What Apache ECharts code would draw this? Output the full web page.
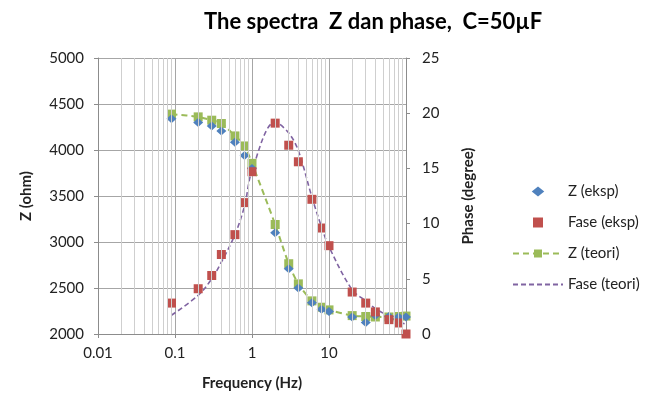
<!DOCTYPE html>
<html>
<head>
<meta charset="utf-8">
<script src="https://cdn.jsdelivr.net/npm/echarts@6/dist/echarts.min.js"></script>
<style>
  html, body { margin: 0; padding: 0; background: #fff; }
  #chart { width: 656px; height: 410px; }
</style>
</head>
<body>
<div id="chart"></div>
<script>
// frequency points (Hz)
var freq = [0.09, 0.2, 0.3, 0.4, 0.6, 0.8, 1, 2, 3, 4, 6, 8, 10, 20, 30, 40, 60, 80, 100];
// Z measured / theory (ohm)
var zEksp  = [4340, 4300, 4262, 4207, 4084, 3940, 3800, 3100, 2710, 2500, 2340, 2270, 2245, 2185, 2125, 2200, 2190, 2185, 2185];
var zTeori = [4390, 4360, 4324, 4288, 4153, 4044, 3855, 3190, 2764, 2545, 2360, 2291, 2262, 2200, 2190, 2185, 2185, 2190, 2195];
// phase measured / theory (degree)
var faseEksp  = [2.8, 4.1, 5.3, 7.2, 9.0, 11.9, 14.7, 19.1, 17.1, 15.6, 12.2, 9.6, 8.0, 3.8, 2.8, 2.0, 1.3, 1.0, 0];
var faseTeori = [1.7, 3.5, 5.0, 6.5, 9.0, 11.6, 14.8, 19.2, 18.2, 16.6, 12.4, 9.7, 7.9, 4.0, 3.0, 2.3, 1.6, 1.1, 0.9];

var names = ['Z (eksp)', 'Fase (eksp)', 'Z (teori)', 'Fase (teori)'];

function pairs(ys) {
  var res = [];
  for (var i = 0; i < freq.length; i++) {
    res.push([freq[i], ys[i]]);
  }
  return res;
}

// minor vertical grid lines at 2..9 of each decade
var minorLines = [];
for (var d = -2; d < 2; d++) {
  for (var k = 2; k <= 9; k++) {
    minorLines.push({ xAxis: k * Math.pow(10, d) });
  }
}

var chart = echarts.init(document.getElementById('chart'));
var fontFam = 'Lato, "Open Sans", sans-serif';
var axisGray = '#8c8c8c';

var option = {
  animation: false,
  textStyle: { fontFamily: fontFam },
  title: {
    text: 'The spectra  Z dan phase,  C=50\u00b5F',
    left: 199,
    top: 6,
    textStyle: { fontSize: 22, fontWeight: 'bold', color: '#000', fontFamily: fontFam }
  },
  legend: {
    orient: 'vertical',
    left: 507,
    top: 179,
    itemWidth: 50,
    itemHeight: 10,
    itemGap: 16,
    textStyle: { fontSize: 15, color: '#222' },
    data: [
      { name: names[0], icon: 'path://M5,1L10,5L5,9L0,5Z', itemStyle: { opacity: 1 } },
      { name: names[1], icon: 'path://M0,0L10,0L10,10L0,10Z', itemStyle: { opacity: 1 } },
      { name: names[2] },
      { name: names[3], itemStyle: { opacity: 0 } }
    ]
  },
  grid: { left: 98, right: 250, top: 58, bottom: 76 },
  xAxis: {
    type: 'log',
    logBase: 10,
    min: 0.01,
    max: 100,
    name: 'Frequency (Hz)',
    nameLocation: 'middle',
    nameGap: 42,
    nameTextStyle: { fontSize: 15, fontWeight: 'bold', color: '#222' },
    axisLine: { lineStyle: { color: axisGray } },
    axisTick: { show: true, length: 4, lineStyle: { color: axisGray } },
    axisLabel: { fontSize: 15, color: '#222', margin: 12, showMaxLabel: false,
      formatter: function (v) { return String(Number(v.toPrecision(3))); } },
    splitLine: { show: true, lineStyle: { color: '#a6a6a6' } }
  },
  yAxis: [{
    type: 'value',
    min: 2000,
    max: 5000,
    interval: 500,
    name: 'Z (ohm)',
    nameLocation: 'middle',
    nameGap: 64,
    nameTextStyle: { fontSize: 15, fontWeight: 'bold', color: '#222' },
    axisLine: { show: true, lineStyle: { color: axisGray } },
    axisTick: { show: true, length: 4, lineStyle: { color: axisGray } },
    axisLabel: { fontSize: 15, color: '#222', margin: 14,
      formatter: function (v) { return String(v); } },
    splitLine: { show: true, lineStyle: { color: '#a6a6a6' } }
  }, {
    type: 'value',
    min: 0,
    max: 25,
    interval: 5,
    position: 'right',
    name: 'Phase (degree)',
    nameLocation: 'middle',
    nameGap: 55,
    nameTextStyle: { fontSize: 15, fontWeight: 'bold', color: '#222' },
    axisLine: { show: true, lineStyle: { color: axisGray } },
    axisTick: { show: true, length: 4, lineStyle: { color: axisGray } },
    axisLabel: { fontSize: 15, color: '#222', margin: 16 },
    splitLine: { show: false }
  }],
  series: [{
    name: 'grid',
    type: 'line',
    data: [],
    silent: true,
    markLine: {
      silent: true,
      symbol: 'none',
      label: { show: false },
      lineStyle: { color: '#cfcfcf', type: 'solid', width: 1 },
      data: minorLines
    }
  }, {
    name: names[2],
    type: 'line',
    yAxisIndex: 0,
    data: pairs(zTeori),
    smooth: 0.3,
    symbol: 'rect',
    symbolSize: 9,
    z: 3,
    itemStyle: { color: '#9bbb59' },
    lineStyle: { color: '#9bbb59', width: 2, type: [6, 4] }
  }, {
    name: names[3],
    type: 'line',
    yAxisIndex: 1,
    data: pairs(faseTeori),
    smooth: 0.35,
    symbol: 'none',
    z: 3,
    itemStyle: { color: '#8064a2' },
    lineStyle: { color: '#8064a2', width: 1.6, type: [5, 3] }
  }, {
    name: names[0],
    type: 'scatter',
    yAxisIndex: 0,
    data: pairs(zEksp),
    symbol: 'diamond',
    symbolSize: [10, 9],
    z: 4,
    itemStyle: { color: '#4f81bd', opacity: 1 }
  }, {
    name: names[1],
    type: 'scatter',
    yAxisIndex: 1,
    data: pairs(faseEksp),
    symbol: 'rect',
    symbolSize: 9,
    z: 4,
    itemStyle: { color: '#c0504d', opacity: 1 }
  }]
};

chart.setOption(option);
</script>
</body>
</html>
